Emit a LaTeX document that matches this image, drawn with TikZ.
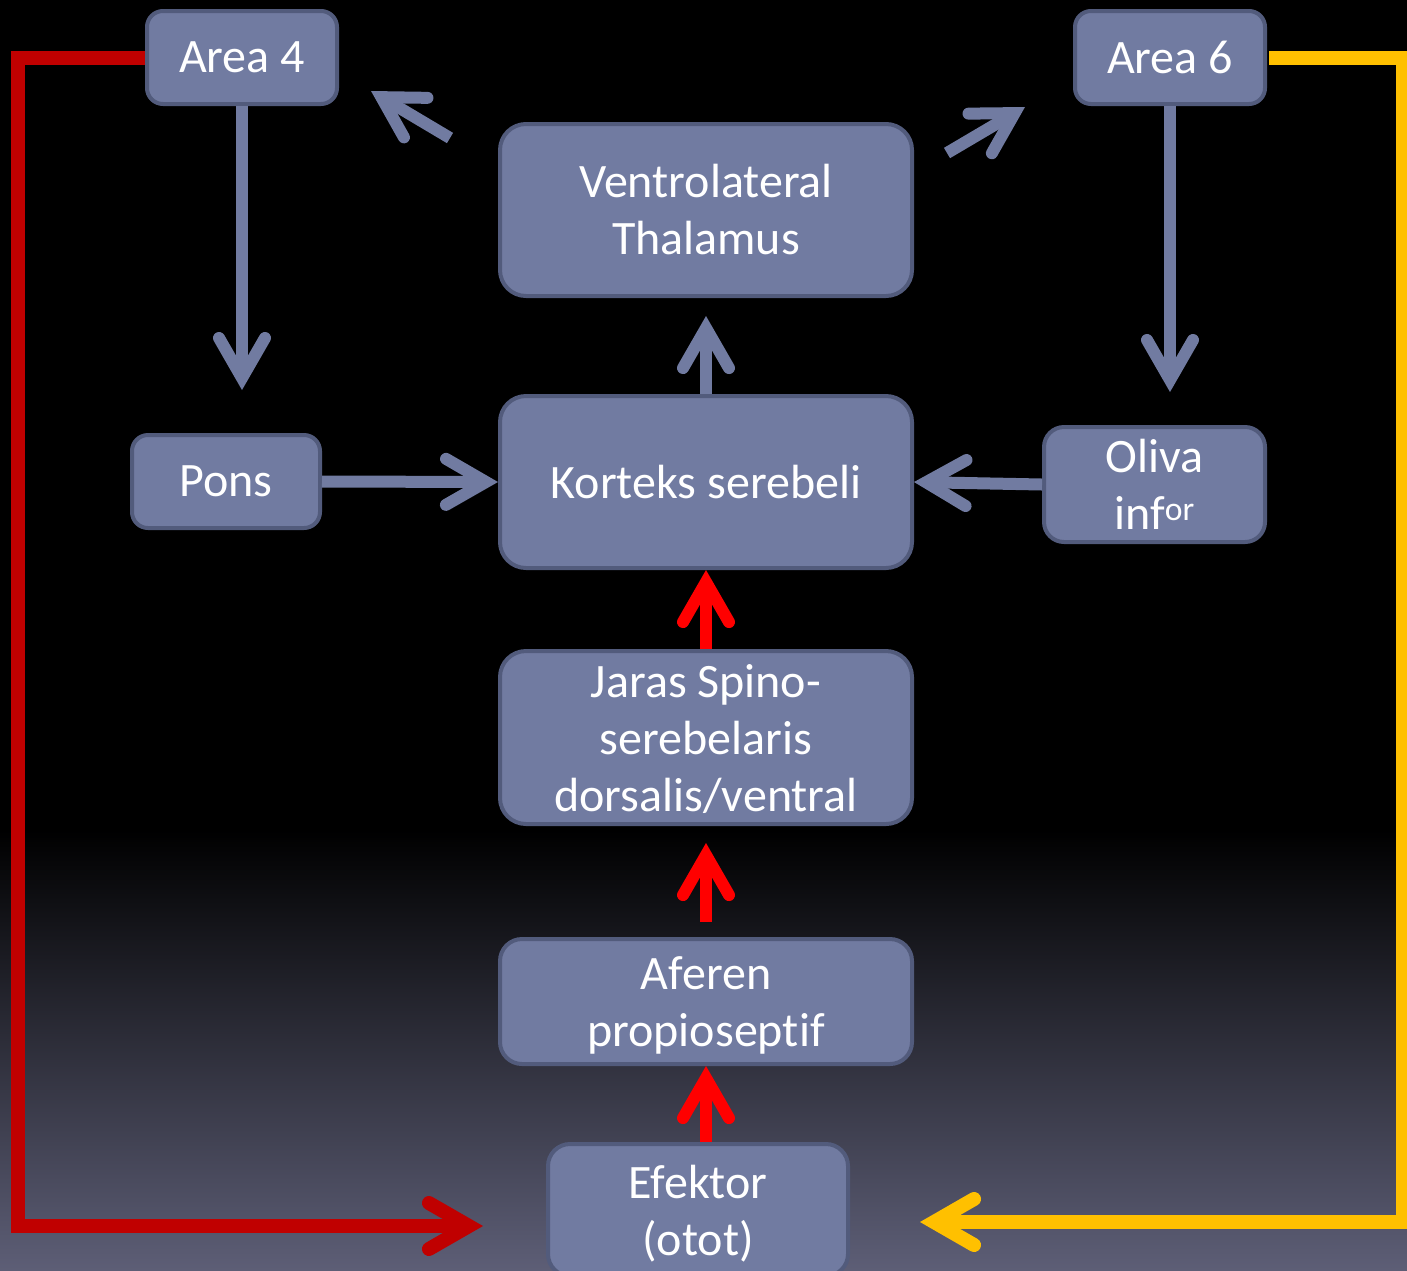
\documentclass[tikz,border=0pt]{standalone}
\usepackage{fontspec}
\setmainfont{Carlito}[Ligatures=NoCommon]
\usetikzlibrary{arrows.meta,calc}
\definecolor{boxfill}{RGB}{113,123,161}
\definecolor{boxline}{RGB}{82,91,124}
\definecolor{darkred}{RGB}{192,0,0}
\definecolor{brightred}{RGB}{255,0,0}
\definecolor{amber}{RGB}{255,192,0}
\definecolor{bgbottom}{RGB}{93,94,118}
\begin{document}
\begin{tikzpicture}[x=1pt,y=-1pt,
  box/.style={draw=boxline, fill=boxfill, line width=4pt, rounded corners=16pt, inner sep=0pt,
    text=white, align=center, font=\fontsize{48}{57}\selectfont},
  big/.style={box, minimum width=412pt, rounded corners=26pt},
  barb/.style={-{Straight Barb[length=40pt,width=46pt,line cap=round,line join=miter]}, line width=12pt},
  garrow/.style={barb, draw=boxfill},
  rarrow/.style={barb, draw=brightred},
  loopline/.style={barb, line width=14pt, miter limit=10}
]
\useasboundingbox (0,0) rectangle (1407,1270);
\clip (0,0) rectangle (1407,1270);
\fill[black] (0,0) rectangle (1407,1270);
\shade[top color=black, bottom color=bgbottom] (0,830) rectangle (1407,1270);

\node[box, minimum width=190pt, minimum height=93pt] (a4) at (242,57.5) {Area 4};
\node[box, minimum width=190pt, minimum height=93pt] (a6) at (1170,57.5) {Area 6};
\node[big, minimum height=172pt] (vt) at (706,210) {Ventrolateral\\Thalamus};
\node[box, minimum width=188pt, minimum height=93pt] (pons) at (226,481.5) {Pons};
\node[big, minimum height=172pt] (ks) at (706,482) {Korteks serebeli};
\node[box, minimum width=221pt, minimum height=115pt, rounded corners=20pt] (ol) at (1154.5,484.5) {Oliva\\inf\textsuperscript{or}};
\node[big, minimum height=173pt, text depth=0pt] (js) at (706,737.5) {Jaras Spino-\\serebelaris\\dorsalis/ventral};
\node[big, minimum height=125pt, rounded corners=22pt, text depth=0pt] (af) at (706,1001.5) {Aferen\\propioseptif};
\node[box, minimum width=300pt, minimum height=132pt, rounded corners=22pt, text depth=0pt] (ef) at (698,1210) {Efektor\\(otot)};

\coordinate (a4tip) at (242,390);
\coordinate (a6tip) at (1170,392);
\coordinate (dlt) at (450,138);
\coordinate (dltip) at (371,91);
\coordinate (drt) at (947,153);
\coordinate (drtip) at (1025,107);
\coordinate (rcorner) at (18,1226);
\coordinate (rtip) at (483,1226);
\coordinate (ycorner) at (1403,1222);
\coordinate (ytip) at (920,1222);

\draw[garrow] (a4.south) -- (a4tip);
\draw[garrow] (a6.south) -- (a6tip);
\draw[garrow] (pons.east) -- (ks.west);
\draw[garrow] (ol.west) -- (ks.east);
\draw[garrow, shorten >=18pt] (ks.north) -- (vt.south);
\draw[garrow] (dlt) -- (dltip);
\draw[garrow] (drt) -- (drtip);

\draw[rarrow] (js.north) -- (ks.south);
\draw[rarrow, shorten <=15pt, shorten >=17pt] (af.north) -- (js.south);
\draw[rarrow] (af.south |- ef.north) -- (af.south);

\draw[loopline, draw=darkred] (a4.west) -| (rcorner) -- (rtip);
\draw[loopline, draw=amber] ([xshift=2pt]a6.east) -| (ycorner) -- (ytip);
\end{tikzpicture}
\end{document}
